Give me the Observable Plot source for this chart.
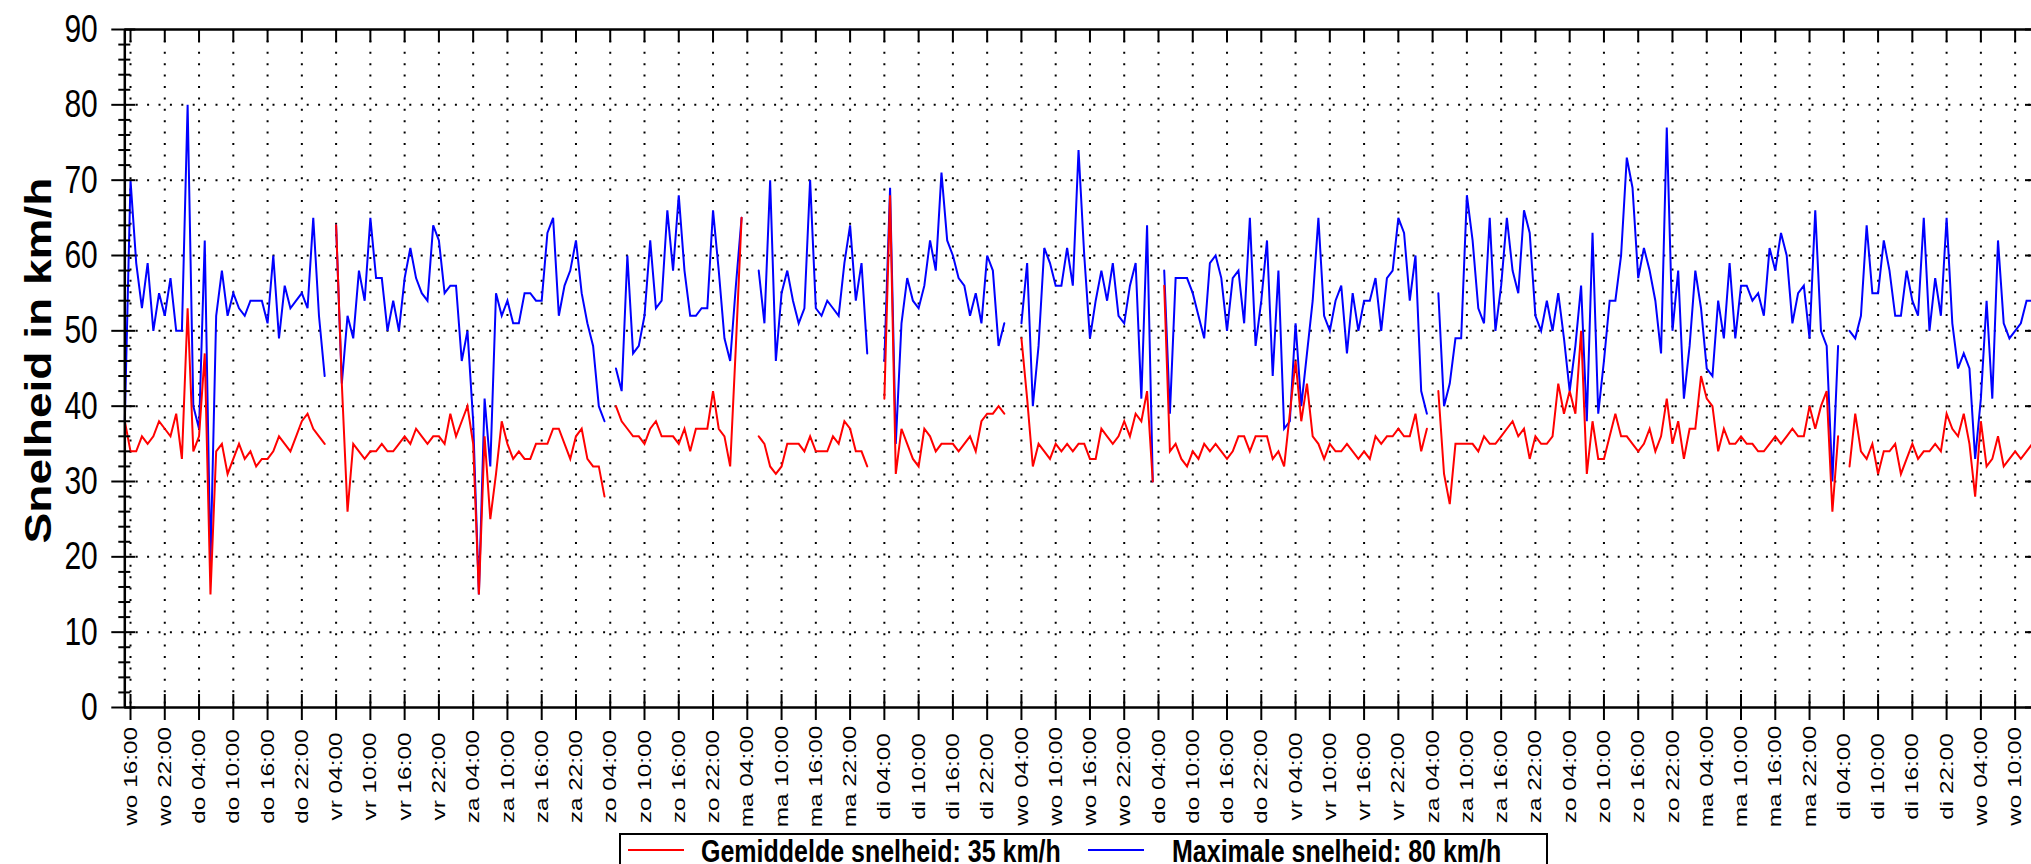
<!DOCTYPE html>
<html>
<head>
<meta charset="utf-8">
<script src="https://cdn.jsdelivr.net/npm/d3@7"></script>
<script src="https://cdn.jsdelivr.net/npm/@observablehq/plot@0.6"></script>
<style>
html,body{margin:0;padding:0;background:#fff;overflow:hidden;width:2031px;height:864px}
#wrap{position:relative;width:2031px;height:864px;overflow:hidden}
#wrap svg{display:block}
#legend{position:absolute;left:619px;top:833px;width:929px;height:44px;border:2px solid #000;box-sizing:border-box;background:#fff;
  font-family:"Liberation Sans",Arial,sans-serif;font-weight:bold;font-size:25px;color:#000}
#legend .sw{position:absolute;top:13.5px;width:56px;height:0;border-top:2px solid}
#legend .lt{position:absolute;top:3.8px;line-height:22px;white-space:nowrap;transform:scaleY(1.28);transform-origin:50% 50%}
</style>
</head>
<body>
<div id="wrap"><div id="legend"></div></div>
<script>
// ---- data (hourly, starting Wednesday 15:00) ----
const startTime = Date.UTC(2023, 2, 1, 15); // a Wednesday, 15:00
const HOUR = 3600e3;

const maxSpeed = [
  38,70,59,53,59,50,55,52,57,50,50,80,
  40,37,62,19,52,58,52,55,53,52,54,54,
  54,51,60,49,56,53,54,55,53,65,52,44,
  null,64,43,52,49,58,54,65,57,57,50,54,
  50,57,61,57,55,54,64,62,55,56,56,46,
  50,38,15,41,32,55,52,54,51,51,55,55,
  54,54,63,65,52,56,58,62,55,51,48,40,
  38,null,45,42,60,47,48,52,62,53,54,66,
  58,68,58,52,52,53,53,66,58,49,46,56,
  65,null,null,58,51,70,46,55,58,54,51,53,
  70,53,52,54,53,52,59,64,54,59,47,null,
  null,46,69,35,51,57,54,53,56,62,58,71,
  62,60,57,56,52,55,51,60,58,48,51,null,
  null,51,59,40,48,61,59,56,56,61,56,74,
  60,49,54,58,54,59,52,51,56,59,41,64,
  30,null,58,39,57,57,57,55,52,49,59,60,
  57,50,57,58,51,65,48,54,62,44,58,37,
  38,51,40,47,54,65,52,50,54,56,47,55,
  50,54,54,57,50,57,58,65,63,54,60,42,
  39,null,55,40,43,49,49,68,62,53,51,65,
  50,56,65,58,55,66,63,52,50,54,50,55,
  49,42,48,56,38,63,39,46,54,54,60,73,
  69,57,61,58,54,47,77,50,58,41,48,58,
  53,45,44,54,49,59,49,56,56,54,55,52,
  61,58,63,60,51,55,56,49,66,50,48,30,
  48,null,50,49,52,64,55,55,62,58,52,52,
  58,54,52,65,50,57,52,65,51,45,47,45,
  33,41,54,41,62,51,49,50,51,54,54,52
];

const avgSpeed = [
  38,34,34,36,35,36,38,37,36,39,33,53,
  34,36,47,15,34,35,31,33,35,33,34,32,
  33,33,34,36,35,34,36,38,39,37,36,35,
  null,64,43,26,35,34,33,34,34,35,34,34,
  35,36,35,37,36,35,36,36,35,39,36,38,
  40,35,15,36,25,31,38,35,33,34,33,33,
  35,35,35,37,37,35,33,36,37,33,32,32,
  28,null,40,38,37,36,36,35,37,38,36,36,
  36,35,37,34,37,37,37,42,37,36,32,48,
  65,null,null,36,35,32,31,32,35,35,35,34,
  36,34,34,34,36,35,38,37,34,34,32,null,
  null,41,68,31,37,35,33,32,37,36,34,35,
  35,35,34,35,36,34,38,39,39,40,39,null,
  null,49,41,32,35,34,33,35,34,35,34,35,
  35,33,33,37,36,35,36,38,36,39,38,42,
  30,null,56,34,35,33,32,34,33,35,34,35,
  34,33,34,36,36,34,36,36,36,33,34,32,
  39,46,38,43,36,35,33,35,34,34,35,34,
  33,34,33,36,35,36,36,37,36,36,39,34,
  37,null,42,31,27,35,35,35,35,34,36,35,
  35,36,37,38,36,37,33,36,35,35,36,43,
  39,42,39,50,31,38,33,33,36,39,36,36,
  35,34,35,37,34,36,41,35,38,33,37,37,
  44,41,40,34,37,35,35,36,35,35,34,34,
  35,36,35,36,37,36,36,40,37,40,42,26,
  36,null,32,39,34,33,35,31,34,34,35,31,
  33,35,33,34,34,35,34,39,37,36,39,35,
  28,38,32,33,36,32,33,34,33,34,35,34
];

const xTickLabels = [
  "wo 16:00","wo 22:00","do 04:00","do 10:00","do 16:00","do 22:00",
  "vr 04:00","vr 10:00","vr 16:00","vr 22:00","za 04:00","za 10:00",
  "za 16:00","za 22:00","zo 04:00","zo 10:00","zo 16:00","zo 22:00",
  "ma 04:00","ma 10:00","ma 16:00","ma 22:00","di 04:00","di 10:00",
  "di 16:00","di 22:00","wo 04:00","wo 10:00","wo 16:00","wo 22:00",
  "do 04:00","do 10:00","do 16:00","do 22:00","vr 04:00","vr 10:00",
  "vr 16:00","vr 22:00","za 04:00","za 10:00","za 16:00","za 22:00",
  "zo 04:00","zo 10:00","zo 16:00","zo 22:00","ma 04:00","ma 10:00",
  "ma 16:00","ma 22:00","di 04:00","di 10:00","di 16:00","di 22:00",
  "wo 04:00","wo 10:00"
];
const yTicks = [0,10,20,30,40,50,60,70,80,90];
const yMinorTicks = [2,4,6,8,12,14,16,18,22,24,26,28,32,34,36,38,42,44,46,48,52,54,56,58,62,64,66,68,72,74,76,78,82,84,86,88];
const yGridLines = [10,20,30,40,50,60,70,80];
const yTitle = "Snelheid in km/h";
const seriesNames = ["Gemiddelde snelheid: 35 km/h", "Maximale snelheid: 80 km/h"];
const seriesColors = ["#ff0000", "#0000ff"];

// ---- build ----
const rows = maxSpeed.map((m, i) => ({time: new Date(startTime + i * HOUR), max: m, avg: avgSpeed[i]}));
const firstTick = startTime + HOUR;
const tickDates = xTickLabels.map((_, i) => new Date(firstTick + i * 6 * HOUR));
const fmt = d => xTickLabels[Math.round((+d - firstTick) / (6 * HOUR))];

const W = 2031, H = 833;
const mL = 124.3, mR = -3, mT = 29, mB = 126;
const plotW = W - mR - mL, plotH = H - mT - mB;
const x0 = new Date(startTime), x1 = new Date(startTime + ((W - mR - mL) / 5.711) * HOUR);
const K = "#000";

const chart = Plot.plot({
  width: W, height: H,
  marginLeft: mL, marginRight: mR, marginTop: mT, marginBottom: mB,
  x: {type: "utc", domain: [x0, x1], axis: null},
  y: {domain: [0, 90], axis: null},
  style: {fontFamily: "'Liberation Sans', Arial, sans-serif", background: "#fff", color: "#000", overflow: "visible"},
  marks: [
    Plot.gridY(yGridLines, {stroke: K, strokeOpacity: 1, strokeWidth: 2, strokeDasharray: "2,9.4"}),
    Plot.gridX(tickDates, {stroke: K, strokeOpacity: 1, strokeWidth: 2, strokeDasharray: "2,9.4"}),
    Plot.line(rows, {x: "time", y: "max", stroke: seriesColors[1], strokeWidth: 2, strokeLinejoin: "miter", strokeMiterlimit: 4}),
    Plot.line(rows, {x: "time", y: "avg", stroke: seriesColors[0], strokeWidth: 2, strokeLinejoin: "miter", strokeMiterlimit: 4}),
    // frame
    Plot.ruleY([0, 90], {stroke: K, strokeWidth: 2.5}),
    Plot.ruleX([x0, x1], {stroke: K, strokeWidth: 2.5}),
    // left ticks (crossing)
    Plot.tickY(yTicks, {y: d => d, stroke: K, strokeWidth: 2, insetLeft: -13, insetRight: plotW - 11}),
    Plot.tickY(yMinorTicks, {y: d => d, stroke: K, strokeWidth: 2, insetLeft: -6, insetRight: plotW - 6}),
    // right ticks (inward)
    Plot.tickY(yTicks, {y: d => d, stroke: K, strokeWidth: 2, insetLeft: plotW - 9, insetRight: 0}),
    // top ticks (inward)
    Plot.tickX(tickDates, {x: d => d, stroke: K, strokeWidth: 2, insetTop: 0, insetBottom: plotH - 13}),
    // bottom ticks (crossing)
    Plot.tickX(tickDates, {x: d => d, stroke: K, strokeWidth: 2, insetTop: plotH - 13, insetBottom: -13}),
    // axes text
    Plot.axisY(yTicks, {anchor: "left", tickSize: 0, tickPadding: 27, fontSize: 30, label: null}),
    Plot.axisX(tickDates, {anchor: "bottom", tickSize: 0, tickRotate: -90, textAnchor: "middle", lineAnchor: "middle",
      tickPadding: 69, tickFormat: fmt, fontSize: 19, label: null}),
    Plot.text([yTitle], {frameAnchor: "left", rotate: -90, dx: -85, dy: -8, fontSize: 36, fontWeight: "bold",
      textAnchor: "middle", lineAnchor: "middle", fill: K})
  ]
});

const wrap = document.getElementById("wrap");
wrap.insertBefore(chart, wrap.firstChild);

// vertical stretch of all chart text (the reference's lettering is tall and narrow)
const S = 1.28;
const ns = "http://www.w3.org/2000/svg";
chart.querySelectorAll("text").forEach(t => {
  const parent = t.parentNode;
  const r = t.getBoundingClientRect();
  const pt = chart.createSVGPoint();
  pt.x = r.left + r.width / 2; pt.y = r.top + r.height / 2;
  const p = pt.matrixTransform(parent.getScreenCTM().inverse());
  const g = document.createElementNS(ns, "g");
  g.setAttribute("transform", `translate(0,${p.y}) scale(1,${S}) translate(0,${-p.y})`);
  parent.insertBefore(g, t);
  g.appendChild(t);
});

// legend
const legend = document.getElementById("legend");
const swLeft = [7, 467], txtLeft = [80, 551];
seriesNames.forEach((name, i) => {
  const sw = document.createElement("div");
  sw.className = "sw"; sw.style.left = swLeft[i] + "px"; sw.style.borderColor = seriesColors[i];
  const tx = document.createElement("span");
  tx.className = "lt"; tx.style.left = txtLeft[i] + "px"; tx.textContent = name;
  legend.appendChild(sw); legend.appendChild(tx);
});
</script>
</body>
</html>
